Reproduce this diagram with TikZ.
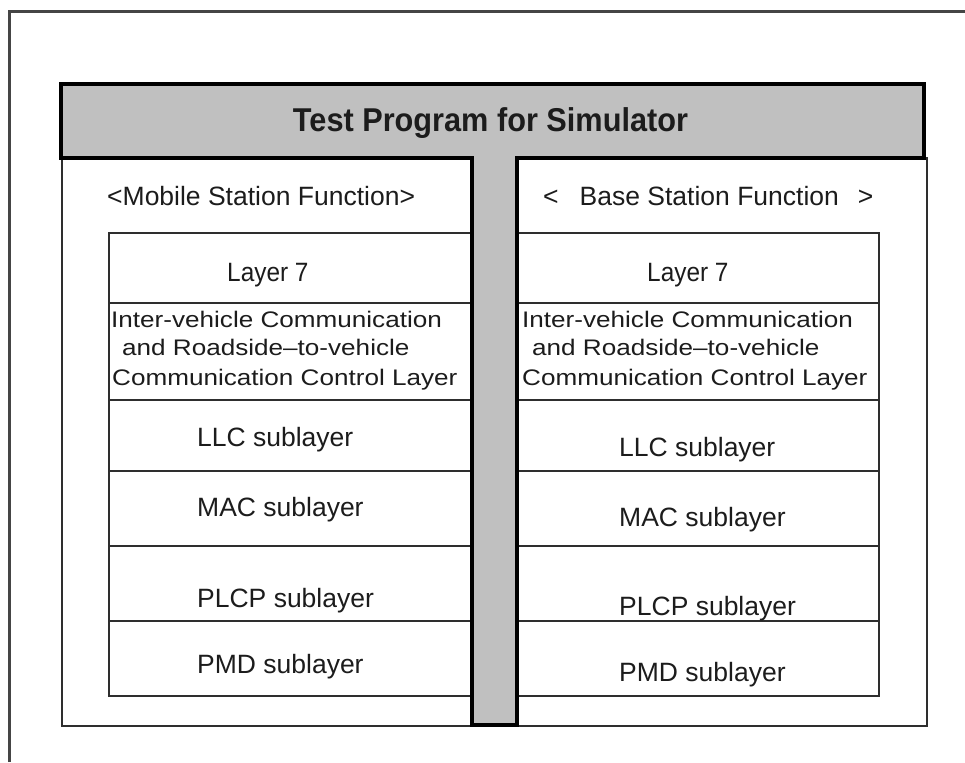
\documentclass[tikz,border=0pt]{standalone}
\usepackage{fontspec}
\setmainfont{Liberation Sans}
\newfontfamily\widesans[FakeStretch=1.16]{Liberation Sans}
\newfontfamily\titlesans[FakeStretch=0.93]{Liberation Sans}
\newfontfamily\narrowsans[FakeStretch=0.92]{Liberation Sans}
\definecolor{bargray}{HTML}{C0C0C0}
\definecolor{framegray}{HTML}{454545}
\definecolor{linegray}{HTML}{2E2E2E}
\definecolor{textgray}{HTML}{1C1C1C}

\begin{document}
\begin{tikzpicture}[x=1pt,y=-1pt,
  frame/.style={draw=framegray, line width=3pt, line join=miter},
  tbar/.style={draw=black, fill=bargray, line width=3.5pt, line join=miter},
  cell/.style={draw=linegray, line width=2pt, rectangle, inner sep=0pt,
               outer sep=0pt, anchor=north west},
  lbl/.style={inner sep=0pt, anchor=base west, text=textgray,
              font=\fontsize{26.5}{29}\selectfont},
  stack/.style={lbl, font=\widesans\fontsize{22.5}{29}\selectfont},
  layerlbl/.style={lbl, font=\narrowsans\fontsize{26.5}{29}\selectfont},
]
\useasboundingbox (0,0) rectangle (965,762);

% page frame (only top and left edges visible)
\draw[frame] (9,762) -- (9,12) -- (965,12);

% the two function panels
\node[cell, line width=2.2pt, minimum width=410pt, minimum height=568pt] (mspanel) at (62,158) {};
\node[cell, line width=2.2pt, minimum width=410pt, minimum height=568pt] (bspanel) at (517,158) {};

% mobile station layer stack
\node[cell, minimum width=363pt, minimum height=70pt] (ml7)   at (109,233) {};
\node[cell, minimum width=363pt, minimum height=97pt] (mctl)  at (109,303) {};
\node[cell, minimum width=363pt, minimum height=71pt] (mllc)  at (109,400) {};
\node[cell, minimum width=363pt, minimum height=75pt] (mmac)  at (109,471) {};
\node[cell, minimum width=363pt, minimum height=75pt] (mplcp) at (109,546) {};
\node[cell, minimum width=363pt, minimum height=75pt] (mpmd)  at (109,621) {};

% base station layer stack
\node[cell, minimum width=362pt, minimum height=70pt] (bl7)   at (517,233) {};
\node[cell, minimum width=362pt, minimum height=97pt] (bctl)  at (517,303) {};
\node[cell, minimum width=362pt, minimum height=71pt] (bllc)  at (517,400) {};
\node[cell, minimum width=362pt, minimum height=75pt] (bmac)  at (517,471) {};
\node[cell, minimum width=362pt, minimum height=75pt] (bplcp) at (517,546) {};
\node[cell, minimum width=362pt, minimum height=75pt] (bpmd)  at (517,621) {};

% T-shaped test program bar
\draw[tbar] (61,84) -- (924,84) -- (924,158) -- (517,158) -- (517,725)
  -- (472,725) -- (472,158) -- (61,158) -- cycle;
\node[inner sep=0pt, anchor=base, text=textgray,
      font=\titlesans\bfseries\fontsize{33}{36}\selectfont] (title) at (490.5,132)
  {Test Program for Simulator};

% panel headings
\node[lbl] (mshead) at (107,205) {<Mobile Station Function>};
\node[lbl] (bshead) at (543,205) {<\hspace{21pt}Base Station Function\hspace{19pt}>};

% mobile station labels
\node[layerlbl] (ml7t) at (227,281) {Layer 7};
\node[stack] (mctl1) at (111,327) {Inter-vehicle Communication};
\node[stack] (mctl2) at (122,355) {and Roadside–to-vehicle};
\node[stack] (mctl3) at (112,385) {Communication Control Layer};
\node[lbl] (mllct)  at (197,446) {LLC sublayer};
\node[lbl] (mmact)  at (197,516) {MAC sublayer};
\node[lbl] (mplcpt) at (197,607) {PLCP sublayer};
\node[lbl] (mpmdt)  at (197,673) {PMD sublayer};

% base station labels
\node[layerlbl] (bl7t) at (647,281) {Layer 7};
\node[stack] (bctl1) at (522,327) {Inter-vehicle Communication};
\node[stack] (bctl2) at (532,355) {and Roadside–to-vehicle};
\node[stack] (bctl3) at (522,385) {Communication Control Layer};
\node[lbl] (bllct)  at (619,456) {LLC sublayer};
\node[lbl] (bmact)  at (619,526) {MAC sublayer};
\node[lbl] (bplcpt) at (619,615) {PLCP sublayer};
\node[lbl] (bpmdt)  at (619,681) {PMD sublayer};
\end{tikzpicture}
\end{document}
